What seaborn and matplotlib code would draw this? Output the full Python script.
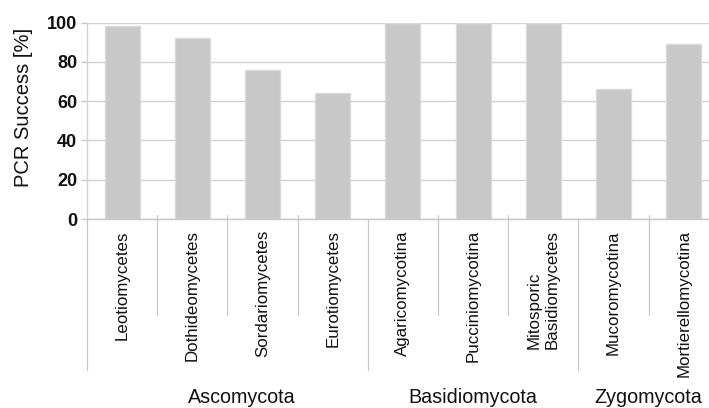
import matplotlib
matplotlib.use("Agg")
import matplotlib.pyplot as plt
import seaborn as sns
import pandas as pd

categories = ["Leotiomycetes", "Dothideomycetes", "Sordariomycetes", "Eurotiomycetes",
              "Agaricomycotina", "Pucciniomycotina", "Mitosporic\nBasidiomycetes",
              "Mucoromycotina", "Mortierellomycotina"]
groups = ["Ascomycota"] * 4 + ["Basidiomycota"] * 3 + ["Zygomycota"] * 2
success = [98, 92, 76, 64, 100, 100, 100, 66, 89]
yticks = [0, 20, 40, 60, 80, 100]
group_names = ["Ascomycota", "Basidiomycota", "Zygomycota"]
group_label_x = [1.7, 5.0, 7.5]

sns.set_theme(style="white")
plt.rcParams["font.family"] = ["Liberation Sans", "DejaVu Sans"]

df = pd.DataFrame({"cat": categories, "val": success, "grp": groups})

W, H = 709, 408
fig = plt.figure(figsize=(W / 100, H / 100), dpi=100)
ax_left, ax_right, ax_bot, ax_top = 87, 87 + 9 * 70.2, 408 - 219, 408 - 22.5
ax = fig.add_axes([ax_left / W, ax_bot / H, (ax_right - ax_left) / W, (ax_top - ax_bot) / H])

sns.barplot(data=df, x="cat", y="val", color="#c8c8c8", saturation=1, width=0.5,
            edgecolor="#dadada", linewidth=1.0, ax=ax)

ax.set_xlim(-0.5, len(categories) - 0.5)
ax.set_ylim(0, 100)
ax.set_axisbelow(True)
ax.yaxis.grid(True, color="#d2d2d2", linewidth=1.0)
ax.xaxis.grid(False)

for s in ["top", "right"]:
    ax.spines[s].set_visible(False)
ax.spines["left"].set_color("#d2d2d2")
ax.spines["bottom"].set_color("#c8c8c8")
ax.spines["left"].set_linewidth(1.0)
ax.spines["bottom"].set_linewidth(1.0)

ax.set_yticks(yticks)
ax.set_yticklabels([str(t) for t in yticks], fontsize=13, fontweight="bold", color="#111111")
ax.tick_params(axis="y", length=4, color="#c8c8c8", width=1, pad=3, left=True)

ax.set_xticks(range(len(categories)))
ax.set_xticklabels(categories, rotation=90, fontsize=12.2, color="#111111",
                   ha="center", va="top", multialignment="left")
ax.tick_params(axis="x", length=0, pad=8)
ax.set_xlabel("")
ax.set_ylabel("PCR Success [%]", fontsize=14.5, color="#111111")
ax.yaxis.set_label_coords(-0.086, 0.57)

# separators between categories and groups
trans = ax.get_xaxis_transform()
for i in range(len(categories) + 1):
    b = i - 0.5
    is_group = i == 0 or i == len(categories) or groups[i] != groups[i - 1]
    if is_group:
        y0, y1 = 0.0, -0.768
    else:
        y0, y1 = 0.02, -0.488
    ax.plot([b, b], [y0, y1], transform=trans, clip_on=False, color="#c8c8c8", lw=0.9)

for name, gx in zip(group_names, group_label_x):
    ax.text(gx, -0.906, name, transform=trans, ha="center", va="center",
            fontsize=14.2, color="#111111")

fig.savefig("out.png", dpi=100)
